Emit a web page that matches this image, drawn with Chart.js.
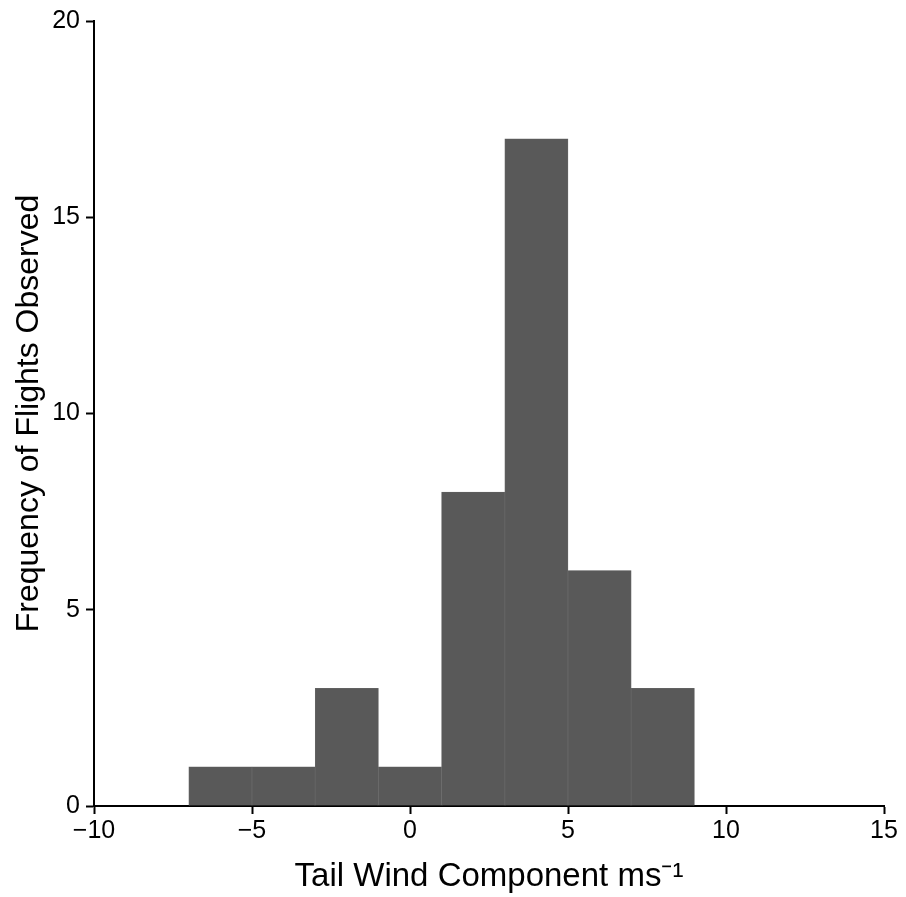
<!DOCTYPE html>
<html>
<head>
<meta charset="utf-8">
<script src="https://cdn.jsdelivr.net/npm/chart.js@4"></script>
<style>
  html, body { margin: 0; padding: 0; background: #fff; }
  #wrap { width: 906px; height: 897px; }
</style>
</head>
<body>
<div id="wrap"><canvas id="chartCanvas" width="906" height="897"></canvas></div>
<script>
// histogram bins (width 2 m/s), centres and counts
const binCenters = [-6, -4, -2, 0, 2, 4, 6, 8];
const binCounts = [1, 1, 3, 1, 8, 17, 6, 3];
const xTicks = [-10, -5, 0, 5, 10, 15];
const yTicks = [0, 5, 10, 15, 20];

const fontFamily = '"Liberation Sans", Arial, Helvetica, sans-serif';
const minus = (v) => String(v).replace('-', '\u2212');

const ctx = document.getElementById('chartCanvas').getContext('2d');
new Chart(ctx, {
    type: 'bar',
    data: {
        datasets: [{
            data: binCenters.map((c, i) => ({ x: c, y: binCounts[i] })),
            backgroundColor: '#595959',
            borderColor: '#6a6a6a',
            borderWidth: 0.6,
            barPercentage: 1,
            categoryPercentage: 1,
        }],
    },
    options: {
        responsive: false,
        animation: false,
        layout: { padding: { top: 20, right: 22, left: 0, bottom: 0 } },
        plugins: { legend: { display: false }, tooltip: { enabled: false } },
        scales: {
            x: {
                type: 'linear',
                min: -10,
                max: 15,
                offset: false,
                afterBuildTicks: (scale) => { scale.ticks = xTicks.map((v) => ({ value: v })); },
                afterFit: (scale) => { scale.height = 91; },
                grid: { offset: false, drawOnChartArea: false, drawTicks: true, tickLength: 8, tickColor: '#000', tickWidth: 2 },
                border: { color: '#000', width: 2 },
                ticks: {
                    color: '#000',
                    font: { family: fontFamily, size: 25 },
                    padding: 2,
                    maxRotation: 0,
                    callback: (v) => minus(v),
                },
                title: {
                    display: true,
                    text: 'Tail Wind Component ms\u207B\u00B9',
                    color: '#000',
                    font: { family: fontFamily, size: 33 },
                    padding: { top: 2, bottom: 0 },
                },
            },
            y: {
                min: 0,
                max: 20,
                afterBuildTicks: (scale) => { scale.ticks = yTicks.map((v) => ({ value: v })); },
                afterFit: (scale) => { scale.width = 94; },
                grid: { drawOnChartArea: false, drawTicks: true, tickLength: 8, tickColor: '#000', tickWidth: 2 },
                border: { color: '#000', width: 2 },
                ticks: {
                    color: '#000',
                    font: { family: fontFamily, size: 25 },
                    padding: 6,
                },
                title: {
                    display: true,
                    text: 'Frequency of Flights Observed',
                    color: '#000',
                    font: { family: fontFamily, size: 32 },
                    padding: { top: 10, bottom: 0 },
                },
            },
        },
    },
});
</script>
</body>
</html>
